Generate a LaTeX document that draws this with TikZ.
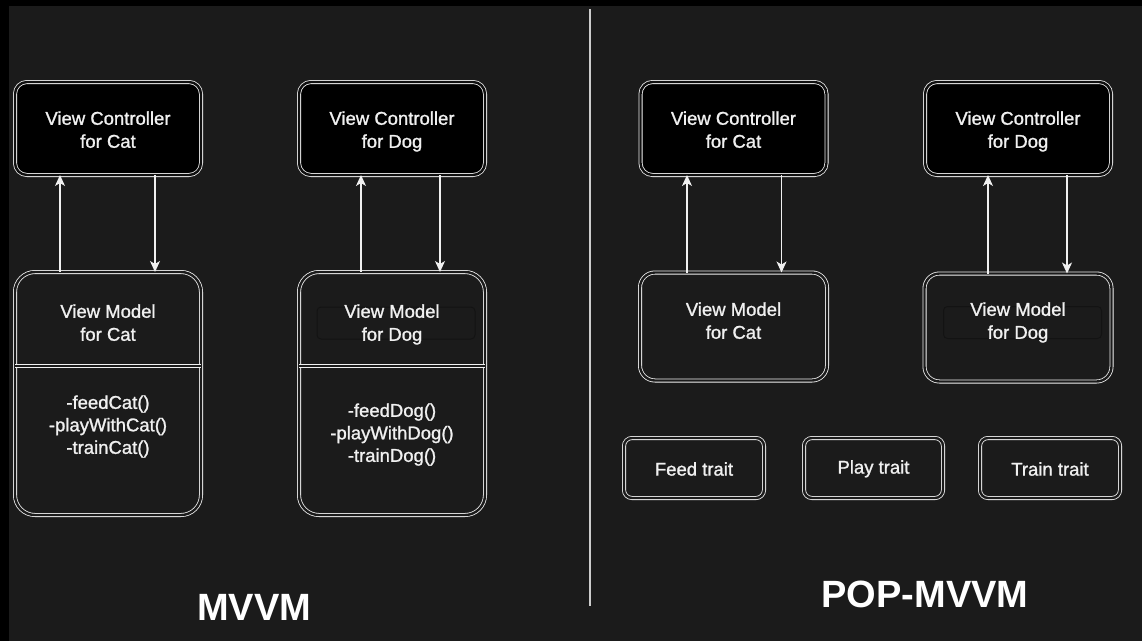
\documentclass[tikz,border=0pt]{standalone}
\usepackage{fontspec}
\setmainfont{Liberation Sans}
\newfontfamily\lblfont[FakeBold=1.2]{Liberation Sans}
\usetikzlibrary{arrows.meta}
\definecolor{bgc}{HTML}{1B1B1B}
\definecolor{fg}{HTML}{F0F0F0}
\definecolor{gapc}{HTML}{101010}
\definecolor{faintc}{HTML}{131313}
\begin{document}
\begin{tikzpicture}[x=1pt,y=-1pt,
  txt/.style={text=fg, font=\lblfont\fontsize{18.5}{23}\selectfont, align=center, inner sep=0pt},
  box/.style={draw=fg, line width=0.8pt, double=#1, double distance=2.4pt, inner sep=0pt, outer sep=0pt},
  vcbox/.style={box=gapc, fill=black, rounded corners=12pt, minimum width=186pt, minimum height=93pt},
  vmbig/.style={box=bgc, fill=bgc, rounded corners=20pt, minimum width=186pt, minimum height=243pt},
  vmsmall/.style={box=bgc, fill=bgc, rounded corners=15pt, minimum width=187pt, minimum height=108pt},
  trait/.style={box=bgc, fill=bgc, rounded corners=8pt, minimum width=140pt, minimum height=60pt},
  faint/.style={draw=faintc, line width=1pt, rounded corners=4pt, minimum width=158pt, minimum height=32pt, inner sep=0pt},
  arr/.style={draw=fg, line width=1.2pt, -{Stealth[length=11pt,width=10pt,inset=3pt]}},
  title/.style={text=white, font=\bfseries\fontsize{38}{40}\selectfont, inner sep=0pt},
]
\fill[black] (0,0) rectangle (1142,641);
\fill[bgc] (9,6) rectangle (1142,641);
\useasboundingbox (0,0) rectangle (1142,641);

% divider
\coordinate (divtop) at (590,9);
\coordinate (divbot) at (590,606);
\draw[fg!85!black, line width=2.2pt] (divtop) -- (divbot);

% ---------- MVVM ----------
\node[vcbox] (vcc1) at (108,128.5) {};
\node[vcbox] (vcd1) at (392,128.5) {};
\node[txt] (vcc1t) at (108,133) {View Controller\\for Cat\strut};
\node[txt] (vcd1t) at (392,133) {View Controller\\for Dog\strut};

\node[vmbig] (vmc1) at (108,393.5) {};
\node[vmbig] (vmd1) at (392,393.5) {};
\coordinate (sep1) at (0,366);
\draw[box=bgc] (vmc1.west |- sep1) -- (vmc1.east |- sep1);
\draw[box=bgc] (vmd1.west |- sep1) -- (vmd1.east |- sep1);

\node[faint] (fd1) at (396,323) {};
\node[txt] (vmc1t) at (108,326) {View Model\\for Cat\strut};
\node[txt] (vmd1t) at (392,326) {View Model\\for Dog\strut};
\node[txt, font=\lblfont\fontsize{18.5}{22.5}\selectfont] (vmc1m) at (108,428) {-feedCat()\\-playWithCat()\\-trainCat()\strut};
\node[txt, font=\lblfont\fontsize{18.5}{22.5}\selectfont] (vmd1m) at (392,436) {-feedDog()\\-playWithDog()\\-trainDog()\strut};

\draw[arr] ([xshift=-48pt]vmc1.north) -- ([xshift=-48pt]vcc1.south);
\draw[arr] ([xshift=47pt]vcc1.south) -- ([xshift=47pt]vmc1.north);
\draw[arr] ([xshift=-31pt]vmd1.north) -- ([xshift=-31pt]vcd1.south);
\draw[arr] ([xshift=48pt]vcd1.south) -- ([xshift=48pt]vmd1.north);

\node[title] (l1) at (254,607.5) {MVVM};

% ---------- POP-MVVM ----------
\node[vcbox] (vcc2) at (733.5,128.5) {};
\node[vcbox] (vcd2) at (1018,128.5) {};
\node[txt] (vcc2t) at (733.5,133) {View Controller\\for Cat\strut};
\node[txt] (vcd2t) at (1018,133) {View Controller\\for Dog\strut};

\node[vmsmall] (vmc2) at (733.5,326.5) {};
\node[vmsmall] (vmd2) at (1018,327.5) {};
\node[faint] (fd2) at (1022.5,322.5) {};
\node[txt] (vmc2t) at (733.5,324) {View Model\\for Cat\strut};
\node[txt] (vmd2t) at (1018,324) {View Model\\for Dog\strut};

\draw[arr] ([xshift=-46.5pt]vmc2.north) -- ([xshift=-46.5pt]vcc2.south);
\draw[arr] ([xshift=48pt]vcc2.south) -- ([xshift=48pt]vmc2.north);
\draw[arr] ([xshift=-30pt]vmd2.north) -- ([xshift=-30pt]vcd2.south);
\draw[arr] ([xshift=49pt]vcd2.south) -- ([xshift=49pt]vmd2.north);

\node[trait] (feed) at (694,468) {};
\node[trait, minimum width=139pt] (play) at (873.5,468) {};
\node[trait] (train) at (1050,468) {};
\node[txt] (feedt) at (694,471) {Feed trait\strut};
\node[txt] (playt) at (873.5,469) {Play trait\strut};
\node[txt] (traint) at (1050,471) {Train trait\strut};

\node[title] (l2) at (925,594) {POP-MVVM};
\end{tikzpicture}
\end{document}
